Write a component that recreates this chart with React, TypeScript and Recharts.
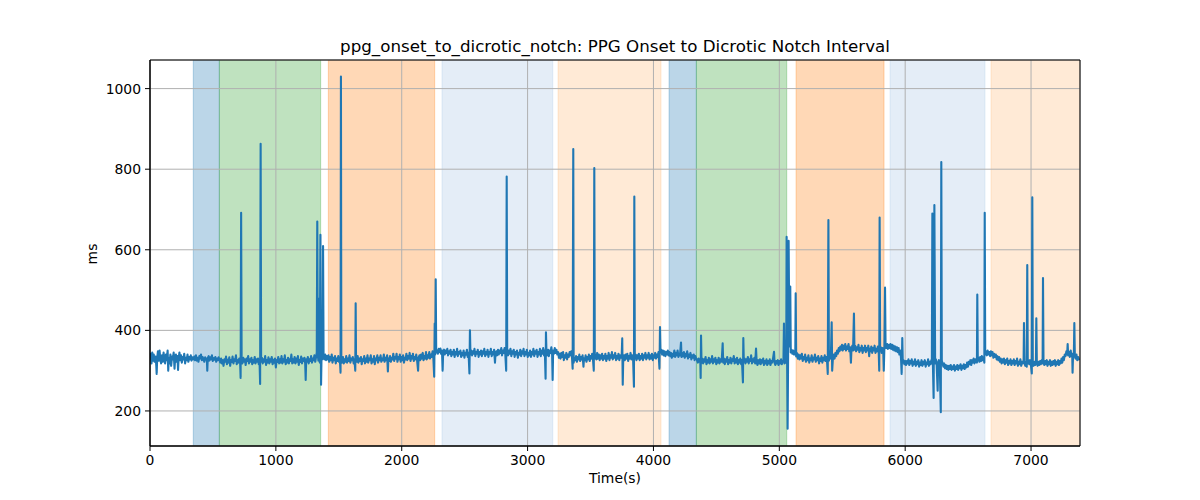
import {
  ComposedChart,
  Line,
  XAxis,
  YAxis,
  CartesianGrid,
  ReferenceArea,
} from "recharts";

// [time (s), interval (ms)], one small list per phase
const preRest: [number, number][] = [
  [0, 330], [6, 342], [12, 318], [18, 345], [24, 325], [30, 340], [37, 322],
  [45, 335], [50, 312], [53, 292], [57, 330], [63, 348], [70, 325], [76, 350],
  [82, 328], [88, 318], [95, 338], [101, 322], [108, 345], [114, 330],
  [120, 318], [127, 340], [133, 326], [140, 350], [145, 300], [149, 332],
  [156, 318], [162, 340], [168, 312], [175, 335], [181, 328], [188, 345],
  [195, 305], [200, 332], [206, 340], [212, 322], [218, 336], [223, 302],
  [227, 330], [234, 345], [240, 326], [247, 338], [253, 320], [260, 334],
  [266, 328], [272, 342], [279, 318], [285, 332], [292, 326], [298, 340],
  [305, 322], [311, 334], [318, 328], [324, 338], [330, 325], [337, 333],
];

const phase1: [number, number][] = [
  [345, 328], [352, 335], [358, 326], [365, 338], [372, 325], [378, 332],
  [385, 322], [392, 336], [398, 330], [405, 340], [412, 326], [418, 334],
  [425, 328], [432, 322], [438, 333], [445, 327], [452, 330], [455, 300],
  [459, 331], [466, 336], [472, 325], [479, 333], [486, 328], [492, 338],
  [499, 324], [506, 331], [512, 327], [519, 334], [526, 322], [532, 330],
  [539, 326], [545, 333], [551, 328],
];

const phase2: [number, number][] = [
  [558, 320], [565, 330], [571, 318], [578, 326], [584, 312], [591, 328],
  [598, 322], [604, 335], [611, 316], [617, 327], [624, 320], [630, 333],
  [637, 312], [643, 326], [650, 322], [656, 335], [663, 318], [670, 328],
  [676, 324], [683, 338], [689, 316], [696, 326], [703, 320], [709, 330],
  [716, 322], [720, 282], [724, 692], [728, 325], [734, 318], [741, 332],
  [747, 322], [754, 328], [760, 314], [767, 330], [773, 324], [780, 336],
  [786, 318], [793, 328], [799, 322], [806, 332], [812, 316], [819, 326],
  [825, 320], [832, 334], [838, 318], [845, 328], [851, 322], [858, 330],
  [864, 316], [870, 328], [875, 267], [879, 863], [883, 322], [889, 332],
  [896, 318], [902, 328], [909, 322], [915, 336], [922, 314], [928, 326],
  [935, 320], [941, 333], [948, 318], [954, 328], [961, 322], [967, 334],
  [974, 316], [980, 327], [987, 320], [993, 330], [1000, 308], [1006, 326],
  [1013, 322], [1019, 334], [1026, 318], [1032, 328], [1039, 320],
  [1045, 336], [1052, 318], [1058, 328], [1065, 322], [1071, 338],
  [1078, 316], [1084, 326], [1091, 320], [1097, 332], [1104, 318],
  [1110, 328], [1117, 324], [1123, 340], [1130, 318], [1136, 328],
  [1143, 320], [1149, 334], [1156, 318], [1162, 330], [1169, 322],
  [1175, 336], [1182, 314], [1188, 326], [1195, 322], [1201, 335],
  [1208, 318], [1214, 330], [1221, 324], [1227, 332], [1233, 318],
  [1237, 277], [1241, 328], [1248, 322], [1254, 334], [1261, 318],
  [1267, 328], [1274, 324], [1280, 336], [1287, 320], [1293, 330],
  [1300, 326], [1306, 338], [1313, 322], [1319, 333], [1325, 345],
  [1329, 670], [1333, 340], [1338, 325], [1342, 330], [1345, 479],
  [1349, 320], [1354, 637], [1359, 265], [1363, 340], [1368, 328],
  [1372, 330], [1375, 609], [1379, 335], [1386, 328], [1392, 340],
  [1399, 326], [1405, 336],
];

const phase3: [number, number][] = [
  [1411, 328], [1418, 338], [1424, 322], [1431, 334], [1437, 326],
  [1444, 340], [1450, 320], [1457, 332], [1463, 326], [1470, 336],
  [1476, 318], [1483, 330], [1489, 324], [1496, 336], [1502, 322],
  [1508, 330], [1514, 295], [1517, 1030], [1520, 330], [1527, 320],
  [1533, 334], [1540, 318], [1546, 328], [1553, 322], [1559, 336],
  [1566, 320], [1572, 330], [1579, 324], [1585, 338], [1592, 320],
  [1598, 330], [1605, 326], [1611, 334], [1618, 318], [1624, 328],
  [1631, 300], [1634, 467], [1637, 328], [1643, 322], [1650, 336],
  [1656, 320], [1663, 330], [1669, 324], [1676, 334], [1682, 316],
  [1689, 328], [1695, 324], [1702, 336], [1708, 318], [1715, 330],
  [1721, 322], [1728, 338], [1734, 320], [1741, 330], [1747, 326],
  [1754, 338], [1760, 318], [1767, 328], [1773, 322], [1780, 336],
  [1786, 316], [1793, 330], [1799, 326], [1806, 338], [1812, 320],
  [1819, 332], [1825, 326], [1832, 338], [1838, 322], [1845, 330],
  [1851, 326], [1858, 340], [1864, 322], [1871, 332], [1877, 326],
  [1884, 338], [1890, 298], [1894, 330], [1901, 324], [1907, 336],
  [1914, 322], [1920, 332], [1927, 328], [1933, 342], [1940, 324],
  [1946, 334], [1953, 330], [1959, 342], [1966, 322], [1972, 334],
  [1979, 328], [1985, 340], [1992, 322], [1998, 334], [2005, 326],
  [2011, 338], [2018, 320], [2024, 332], [2031, 328], [2037, 342],
  [2044, 326], [2050, 336], [2057, 330], [2063, 344], [2070, 324],
  [2076, 336], [2083, 330], [2089, 342], [2096, 324], [2102, 334],
  [2109, 328], [2115, 340], [2122, 326], [2130, 300], [2134, 332],
  [2141, 338], [2147, 326], [2154, 340], [2160, 330], [2167, 344],
  [2173, 326], [2180, 336], [2186, 330], [2193, 346], [2199, 328],
  [2206, 338], [2212, 332], [2219, 346], [2225, 330], [2232, 340],
  [2238, 334], [2245, 348], [2251, 334], [2258, 285], [2262, 417],
  [2266, 340], [2270, 527], [2274, 345], [2281, 350], [2287, 342],
  [2294, 354],
];

const phase4: [number, number][] = [
  [2300, 346], [2307, 355], [2313, 342], [2320, 350], [2325, 300],
  [2329, 345], [2336, 352], [2342, 340], [2349, 350], [2355, 344],
  [2362, 354], [2368, 338], [2375, 348], [2381, 342], [2388, 352],
  [2394, 336], [2401, 346], [2407, 340], [2414, 352], [2420, 334],
  [2427, 346], [2433, 340], [2440, 354], [2446, 336], [2453, 346],
  [2459, 342], [2466, 350], [2472, 334], [2479, 344], [2485, 338],
  [2492, 350], [2498, 332], [2505, 344], [2511, 340], [2518, 352],
  [2524, 334], [2531, 344], [2538, 293], [2542, 400], [2546, 340],
  [2552, 350], [2559, 338], [2565, 348], [2572, 342], [2578, 354],
  [2585, 336], [2591, 346], [2598, 342], [2604, 352], [2611, 334],
  [2617, 346], [2624, 340], [2630, 350], [2637, 336], [2643, 348],
  [2650, 342], [2656, 354], [2663, 336], [2669, 346], [2676, 340],
  [2682, 352], [2689, 334], [2695, 346], [2702, 342], [2708, 354],
  [2715, 336], [2721, 346], [2728, 340], [2734, 352], [2741, 320],
  [2745, 342], [2752, 348], [2758, 338], [2765, 352], [2771, 340],
  [2778, 350], [2784, 344], [2791, 356], [2797, 338], [2804, 350],
  [2810, 344], [2817, 356], [2823, 340], [2830, 300], [2834, 782],
  [2838, 345], [2845, 338], [2851, 350], [2858, 342], [2864, 354],
  [2871, 336], [2877, 348], [2884, 342], [2890, 352], [2897, 334],
  [2903, 346], [2910, 340], [2916, 350], [2923, 332], [2929, 344],
  [2936, 340], [2942, 352], [2949, 336], [2955, 348], [2962, 342],
  [2968, 354], [2975, 336], [2981, 346], [2988, 340], [2994, 352],
  [3001, 334], [3007, 344], [3014, 338], [3020, 350], [3027, 334],
  [3033, 346], [3040, 340], [3046, 354], [3053, 336], [3059, 348],
  [3066, 342], [3072, 352], [3079, 334], [3085, 346], [3092, 340],
  [3098, 354], [3105, 336], [3111, 350], [3118, 342], [3124, 356],
  [3131, 338], [3137, 350], [3143, 280], [3146, 395], [3150, 345],
  [3156, 338], [3163, 352], [3169, 336], [3176, 350], [3182, 344],
  [3189, 358], [3195, 340], [3199, 277], [3203, 350], [3210, 342],
  [3216, 356], [3223, 344], [3229, 352], [3236, 340],
];

const phase5: [number, number][] = [
  [3243, 346], [3249, 332], [3256, 342], [3262, 330], [3269, 344],
  [3275, 334], [3282, 346], [3288, 326], [3295, 338], [3301, 332],
  [3308, 344], [3314, 328], [3321, 340], [3327, 334], [3334, 346],
  [3340, 338], [3347, 348], [3353, 332], [3358, 305], [3363, 850],
  [3366, 320], [3372, 332], [3379, 326], [3385, 336], [3392, 322],
  [3398, 334], [3405, 328], [3411, 340], [3418, 324], [3424, 334],
  [3431, 328], [3437, 338], [3444, 310], [3448, 330], [3455, 326],
  [3461, 338], [3468, 322], [3474, 334], [3481, 328], [3487, 340],
  [3494, 324], [3500, 336], [3507, 330], [3513, 342], [3520, 326],
  [3526, 300], [3530, 803], [3534, 330], [3540, 340], [3547, 328],
  [3553, 344], [3560, 330], [3566, 340], [3573, 326], [3579, 338],
  [3586, 330], [3592, 342], [3599, 326], [3605, 336], [3612, 330],
  [3618, 342], [3625, 324], [3631, 336], [3638, 330], [3644, 344],
  [3651, 326], [3657, 338], [3664, 332], [3670, 346], [3677, 328],
  [3683, 338], [3690, 332], [3696, 344], [3703, 326], [3709, 336],
  [3716, 330], [3722, 342], [3729, 326], [3735, 338], [3742, 332],
  [3748, 340], [3752, 380], [3756, 265], [3760, 330], [3766, 338],
  [3773, 326], [3779, 340], [3786, 330], [3792, 342], [3799, 324],
  [3805, 336], [3812, 330], [3818, 344], [3825, 328], [3831, 338],
  [3838, 332], [3845, 260], [3848, 732], [3852, 330], [3858, 340],
  [3865, 326], [3871, 338], [3878, 330], [3884, 342], [3891, 326],
  [3897, 336], [3904, 330], [3910, 342], [3917, 326], [3923, 338],
  [3930, 332], [3936, 344], [3943, 328], [3949, 338], [3956, 332],
  [3962, 344], [3969, 328], [3975, 338], [3982, 330], [3988, 342],
  [3995, 326], [4001, 338], [4008, 332], [4014, 344], [4021, 330],
  [4027, 340], [4034, 334], [4040, 346], [4048, 305], [4052, 408],
  [4056, 345], [4062, 352], [4069, 340], [4075, 350], [4082, 338],
  [4088, 348], [4095, 336], [4101, 346], [4108, 340], [4114, 350],
  [4120, 338],
];

const phase6: [number, number][] = [
  [4127, 346], [4133, 336], [4140, 344], [4146, 332], [4153, 342],
  [4159, 336], [4166, 350], [4172, 334], [4179, 344], [4185, 338],
  [4192, 350], [4198, 334], [4205, 342], [4211, 338], [4219, 370],
  [4223, 334], [4229, 344], [4236, 336], [4242, 346], [4249, 332],
  [4255, 342], [4262, 336], [4268, 348], [4275, 330], [4281, 340],
  [4288, 334], [4294, 344], [4301, 328], [4307, 338], [4314, 332],
  [4320, 340], [4327, 326], [4333, 336], [4340, 330],
];

const phase7: [number, number][] = [
  [4346, 326], [4353, 320], [4359, 330], [4366, 322], [4372, 328],
  [4375, 282], [4378, 387], [4382, 320], [4388, 330], [4395, 318],
  [4401, 328], [4408, 322], [4414, 334], [4421, 316], [4427, 326],
  [4434, 320], [4440, 332], [4447, 318], [4453, 328], [4460, 322],
  [4466, 336], [4473, 318], [4479, 328], [4486, 322], [4492, 332],
  [4499, 316], [4505, 326], [4512, 320], [4518, 332], [4525, 318],
  [4531, 328], [4538, 322], [4544, 334], [4550, 368], [4554, 320],
  [4560, 330], [4567, 316], [4573, 328], [4580, 322], [4586, 334],
  [4593, 316], [4599, 326], [4606, 320], [4612, 332], [4619, 318],
  [4625, 328], [4632, 324], [4638, 336], [4645, 318], [4651, 328],
  [4658, 320], [4664, 332], [4671, 316], [4677, 326], [4684, 320],
  [4690, 330], [4697, 316], [4703, 326], [4711, 271], [4714, 381],
  [4718, 322], [4724, 330], [4731, 318], [4737, 328], [4744, 322],
  [4750, 334], [4757, 318], [4763, 328], [4770, 324], [4776, 338],
  [4783, 318], [4789, 328], [4796, 322], [4802, 332], [4808, 318],
  [4815, 355], [4820, 322], [4826, 314], [4833, 326], [4839, 318],
  [4846, 328], [4852, 316], [4859, 326], [4865, 320], [4872, 330],
  [4878, 314], [4885, 324], [4891, 318], [4898, 328], [4904, 314],
  [4911, 324], [4917, 318], [4924, 328], [4930, 314], [4937, 324],
  [4943, 320], [4950, 330], [4958, 347], [4962, 320], [4968, 314],
  [4975, 324], [4981, 318], [4988, 326], [4994, 314], [5001, 324],
  [5007, 318], [5014, 328], [5020, 316], [5027, 324], [5033, 325],
  [5037, 417], [5041, 318], [5046, 326], [5050, 330], [5055, 320],
  [5058, 632], [5062, 330], [5066, 156], [5070, 340], [5074, 622],
  [5080, 360], [5087, 509], [5091, 345], [5097, 352], [5104, 342],
  [5110, 350], [5117, 340], [5123, 348],
];

const phase8: [number, number][] = [
  [5127, 340], [5130, 492], [5134, 335], [5140, 344], [5147, 330],
  [5153, 340], [5160, 328], [5166, 338], [5173, 330], [5179, 342],
  [5186, 324], [5192, 334], [5199, 328], [5205, 340], [5212, 322],
  [5218, 332], [5225, 326], [5231, 338], [5238, 320], [5244, 330],
  [5251, 326], [5257, 338], [5264, 322], [5270, 332], [5277, 328],
  [5283, 340], [5290, 322], [5296, 332], [5303, 326], [5309, 336],
  [5316, 318], [5322, 330], [5329, 324], [5335, 336], [5342, 320],
  [5348, 332], [5355, 326], [5361, 338], [5368, 324], [5374, 334],
  [5380, 320], [5385, 292], [5390, 674], [5394, 325], [5400, 336],
  [5405, 330], [5410, 340], [5416, 420], [5420, 300], [5426, 332],
  [5433, 340], [5439, 330], [5446, 344], [5452, 336], [5459, 350],
  [5465, 342], [5472, 356], [5478, 348], [5485, 360], [5491, 352],
  [5498, 364], [5504, 350], [5511, 362], [5517, 354], [5524, 366],
  [5530, 350], [5537, 360], [5543, 354], [5550, 366], [5556, 348],
  [5563, 358], [5569, 320], [5573, 352], [5580, 362], [5586, 350],
  [5593, 442], [5597, 352], [5603, 362], [5610, 348], [5616, 358],
  [5623, 352], [5629, 364], [5636, 346], [5642, 356], [5649, 350],
  [5655, 362], [5662, 344], [5668, 356], [5675, 350], [5681, 362],
  [5688, 346], [5694, 356], [5701, 350], [5707, 362], [5714, 336],
  [5718, 354], [5725, 348], [5731, 360], [5738, 344], [5744, 356],
  [5751, 350], [5757, 362], [5764, 344], [5770, 354], [5777, 348],
  [5783, 360], [5790, 344], [5794, 300], [5797, 680], [5801, 350],
  [5807, 358], [5813, 344], [5820, 356], [5826, 348], [5830, 300],
  [5835, 360], [5840, 506], [5844, 365], [5850, 356], [5857, 366],
  [5863, 354], [5870, 364],
];

const phase9: [number, number][] = [
  [5876, 356], [5883, 366], [5889, 354], [5896, 364], [5902, 352],
  [5909, 362], [5915, 350], [5922, 360], [5928, 348], [5935, 358],
  [5941, 346], [5948, 356], [5954, 340], [5961, 350], [5967, 330],
  [5972, 292], [5977, 381], [5981, 320], [5987, 326], [5994, 316],
  [6000, 324], [6007, 314], [6013, 324], [6020, 318], [6026, 328],
  [6033, 314], [6039, 324], [6046, 318], [6052, 328], [6059, 312],
  [6065, 322], [6072, 316], [6078, 328], [6085, 312], [6091, 322],
  [6098, 316], [6104, 326], [6111, 310], [6117, 320], [6124, 314],
  [6130, 326], [6137, 312], [6143, 322], [6150, 316], [6156, 326],
  [6163, 310], [6169, 320], [6176, 316], [6182, 328], [6189, 312],
  [6195, 322], [6202, 316], [6208, 326], [6212, 320], [6216, 690],
  [6220, 320], [6226, 232], [6232, 711], [6238, 318], [6244, 328],
  [6250, 316], [6258, 250], [6262, 320], [6268, 326], [6275, 314],
  [6283, 197], [6287, 818], [6291, 325], [6297, 318], [6304, 310],
  [6310, 318], [6317, 306], [6323, 314], [6330, 304], [6336, 312],
  [6343, 302], [6349, 312], [6356, 304], [6362, 314], [6369, 302],
  [6375, 310], [6382, 304], [6388, 314], [6395, 300], [6401, 310],
  [6408, 304], [6414, 314], [6421, 302], [6427, 312], [6434, 306],
  [6440, 316], [6447, 302], [6453, 312], [6460, 306], [6466, 316],
  [6473, 304], [6479, 314], [6486, 308], [6492, 320], [6499, 310],
  [6505, 322], [6512, 316], [6518, 326], [6525, 314], [6531, 326],
  [6538, 320], [6544, 330], [6551, 318], [6557, 328], [6564, 322],
  [6570, 320], [6573, 489], [6577, 325], [6583, 332], [6590, 322],
  [6596, 334], [6603, 324], [6609, 336], [6616, 326], [6622, 334],
  [6629, 320], [6632, 692], [6636, 340], [6642, 348], [6649, 338],
  [6655, 350], [6662, 340], [6668, 346], [6675, 336],
];

const phase10: [number, number][] = [
  [6681, 348], [6688, 338], [6694, 346], [6701, 332], [6707, 342],
  [6714, 334], [6720, 340], [6727, 328], [6733, 336], [6740, 326],
  [6746, 334], [6753, 322], [6759, 330], [6766, 318], [6772, 328],
  [6779, 320], [6785, 330], [6792, 316], [6798, 326], [6805, 320],
  [6811, 330], [6818, 314], [6824, 324], [6831, 318], [6837, 328],
  [6844, 314], [6850, 324], [6857, 318], [6863, 328], [6870, 314],
  [6876, 324], [6883, 318], [6889, 330], [6896, 312], [6902, 322],
  [6909, 316], [6915, 328], [6922, 312], [6928, 322], [6935, 318],
  [6941, 326], [6944, 418], [6948, 320], [6954, 312], [6961, 322],
  [6966, 310], [6970, 562], [6974, 318], [6980, 326], [6987, 316],
  [6993, 326], [7000, 312], [7006, 293], [7010, 730], [7014, 320],
  [7020, 312], [7027, 322], [7033, 314], [7039, 322], [7042, 430],
  [7046, 320], [7052, 312], [7059, 322], [7065, 314], [7072, 324],
  [7078, 316], [7085, 326], [7092, 318], [7095, 530], [7099, 322],
  [7105, 314], [7112, 324], [7118, 316], [7125, 326], [7131, 312],
  [7138, 322], [7144, 316], [7151, 326], [7157, 312], [7164, 322],
  [7170, 314], [7177, 324], [7183, 316], [7190, 326], [7196, 312],
  [7203, 322], [7209, 316], [7216, 326], [7222, 314], [7229, 324],
  [7235, 318], [7242, 330], [7248, 320], [7255, 334], [7261, 326],
  [7268, 340], [7274, 336], [7281, 348], [7287, 340], [7291, 366],
  [7295, 338], [7302, 346], [7308, 334], [7315, 350], [7321, 336],
  [7327, 342], [7330, 295], [7334, 340], [7340, 336], [7344, 418],
  [7348, 335], [7354, 330], [7361, 340], [7367, 326], [7374, 334],
  [7380, 328],
];

// protocol phases: [start, end] in seconds
const phaseSpans: [number, number][] = [
  [344, 551], [551, 1356], [1417, 2262], [2320, 3200], [3242, 4060],
  [4124, 4341], [4341, 5059], [5133, 5832], [5880, 6634], [6682, 7400],
];

const xTicks = [0, 1000, 2000, 3000, 4000, 5000, 6000, 7000];
const yTicks = [200, 400, 600, 800, 1000];

const X_MAX = 7389;
const Y_MIN = 113;
const Y_MAX = 1071;

const phaseStyle = [
  { fill: "#1f77b4", opacity: 0.3 },
  { fill: "#2ca02c", opacity: 0.3 },
  { fill: "#ff7f0e", opacity: 0.3 },
  { fill: "#aec7e8", opacity: 0.33 },
  { fill: "#ffbb78", opacity: 0.3 },
];

const FONT = "'DejaVu Sans', sans-serif";

const data = [
  ...preRest, ...phase1, ...phase2, ...phase3, ...phase4,
  ...phase5, ...phase6, ...phase7, ...phase8, ...phase9, ...phase10,
].map(([t, v]) => ({ t, v }));

export default function App() {
  return (
    <div
      style={{
        position: "absolute",
        left: 0,
        top: 0,
        width: 1200,
        height: 500,
        background: "#fff",
        fontFamily: FONT,
      }}
    >
      <ComposedChart
        width={1200}
        height={500}
        data={data}
        margin={{ top: 60, right: 120, bottom: 0, left: 0 }}
      >
        {phaseSpans.map(([a, b], i) => {
          const s = phaseStyle[i % 5];
          return (
            <ReferenceArea
              key={i}
              x1={a}
              x2={Math.min(b, X_MAX)}
              fill={s.fill}
              fillOpacity={s.opacity}
              stroke={s.fill}
              strokeOpacity={s.opacity}
              strokeWidth={1}
              ifOverflow="hidden"
              zIndex={-200}
            />
          );
        })}
        <CartesianGrid stroke="#b0b0b0" strokeWidth={1} zIndex={-50} />
        <XAxis
          dataKey="t"
          type="number"
          domain={[0, X_MAX]}
          ticks={xTicks}
          allowDataOverflow
          height={54}
          tickSize={5}
          tickMargin={4}
          stroke="#000"
          tick={{ fill: "#000", fontSize: 13.9, fontFamily: FONT }}
          tickLine={{ stroke: "#000" }}
          axisLine={{ stroke: "#000" }}
        />
        <YAxis
          type="number"
          domain={[Y_MIN, Y_MAX]}
          ticks={yTicks}
          allowDataOverflow
          width={150}
          tickSize={5}
          tickMargin={4}
          stroke="#000"
          tick={{ fill: "#000", fontSize: 13.9, fontFamily: FONT }}
          tickLine={{ stroke: "#000" }}
          axisLine={{ stroke: "#000" }}
        />
        <Line
          dataKey="v"
          type="linear"
          stroke="#1f77b4"
          strokeWidth={2.1}
          strokeLinejoin="round"
          strokeLinecap="round"
          dot={false}
          activeDot={false}
          isAnimationActive={false}
        />
        <ReferenceArea
          x1={0}
          x2={X_MAX}
          y1={Y_MIN}
          y2={Y_MAX}
          fill="none"
          stroke="#000"
          strokeWidth={1}
          zIndex={600}
        />
      </ComposedChart>

      <div
        style={{
          position: "absolute",
          left: 150,
          width: 930,
          top: 38,
          textAlign: "center",
          fontSize: 16.7,
          lineHeight: "16.7px",
          color: "#000",
          whiteSpace: "nowrap",
        }}
      >
        ppg_onset_to_dicrotic_notch: PPG Onset to Dicrotic Notch Interval
      </div>
      <div
        style={{
          position: "absolute",
          left: 150,
          width: 930,
          top: 472,
          textAlign: "center",
          fontSize: 13.9,
          lineHeight: "13.9px",
          color: "#000",
        }}
      >
        Time(s)
      </div>
      <div
        style={{
          position: "absolute",
          left: 93,
          top: 254,
          transform: "translate(-50%, -50%) rotate(-90deg)",
          fontSize: 13.9,
          lineHeight: "13.9px",
          color: "#000",
        }}
      >
        ms
      </div>
    </div>
  );
}
